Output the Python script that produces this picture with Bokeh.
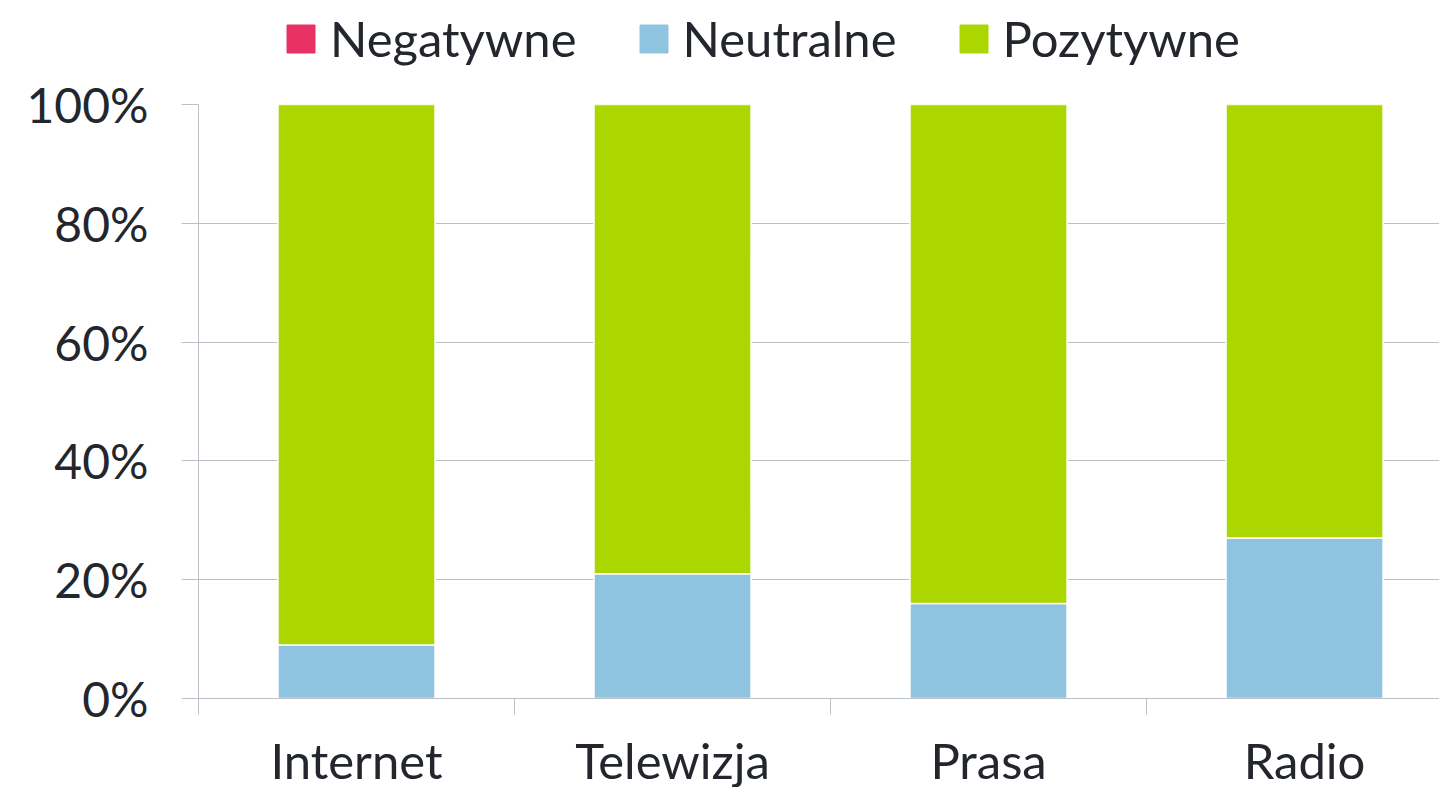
from bokeh.plotting import figure
from bokeh.layouts import column
from bokeh.models import (ColumnDataSource, Range1d, FixedTicker, NumeralTickFormatter,
                          Legend, LegendItem)
from bokeh.core.properties import value
from bokeh.embed import file_html
from bokeh.resources import INLINE

categories = ["Internet", "Telewizja", "Prasa", "Radio"]
negatywne = [0, 0, 0, 0]
neutralne = [9, 21, 16, 27]
pozytywne = [91, 79, 84, 73]
series = ["Negatywne", "Neutralne", "Pozytywne"]
colors = ["#E83263", "#8FC4E0", "#ABD600"]

FONT = "Lato"
TXT = "#23272d"
GRID = "#BCC1C8"
W = 1439

src = ColumnDataSource(dict(
    x=[i + 0.5 for i in range(len(categories))],
    cat=categories,
    Negatywne=[v / 100 for v in negatywne],
    Neutralne=[v / 100 for v in neutralne],
    Pozytywne=[v / 100 for v in pozytywne],
))

x_range = Range1d(0, 3.927)

# ---- legend strip -------------------------------------------------------
leg = figure(width=W, height=70, output_backend="svg", toolbar_location=None,
             x_range=Range1d(0, 1), y_range=Range1d(10, 11),
             x_axis_location=None, y_axis_location=None, min_border=0)
leg.outline_line_color = None
leg.grid.grid_line_color = None
leg_r = leg.vbar_stack(series, x="x", width=0.5, source=src, color=colors)
legend = Legend(items=[LegendItem(label=s, renderers=[r]) for s, r in zip(series, leg_r)],
                orientation="horizontal", location=(85, 3),
                label_text_font=FONT, label_text_font_size="49px", label_text_color=TXT,
                glyph_width=35, glyph_height=35, label_standoff=12, spacing=59,
                border_line_alpha=0, background_fill_alpha=0, padding=0, margin=0)
leg.add_layout(legend, "center")

# ---- main chart ---------------------------------------------------------
p = figure(width=W, height=658, output_backend="svg", toolbar_location=None,
           x_range=x_range, y_range=Range1d(0, 1),
           min_border_left=198, min_border_right=0, min_border_bottom=30, min_border_top=34)
p.outline_line_color = None

p.vbar_stack(series, x="x", width=0.497, source=src, color=colors,
             line_color="white", line_width=1.5)

p.yaxis.ticker = FixedTicker(ticks=[0, 0.2, 0.4, 0.6, 0.8, 1.0])
p.yaxis.formatter = NumeralTickFormatter(format="0%")
p.yaxis.axis_line_color = GRID
p.yaxis.major_tick_line_color = GRID
p.yaxis.major_tick_out = 17
p.yaxis.major_tick_in = 0
p.yaxis.minor_tick_line_color = None
p.yaxis.major_label_standoff = 33
p.yaxis.major_label_text_font = FONT
p.yaxis.major_label_text_font_size = "48px"
p.yaxis.major_label_text_color = TXT

p.xaxis.ticker = FixedTicker(ticks=[i + 0.5 for i in range(len(categories))],
                             minor_ticks=list(range(len(categories) + 1)))
p.xaxis.major_label_overrides = {i + 0.5: "" for i in range(len(categories))}
p.xaxis.major_label_text_font_size = "0px"
p.xaxis.major_label_standoff = 0
p.xaxis.axis_line_color = GRID
p.xaxis.major_tick_line_color = None
p.xaxis.major_tick_out = 0
p.xaxis.minor_tick_line_color = GRID
p.xaxis.minor_tick_out = 16
p.xaxis.minor_tick_in = 0

p.xgrid.grid_line_color = None
p.ygrid.grid_line_color = GRID
p.ygrid.ticker = FixedTicker(ticks=[0, 0.2, 0.4, 0.6, 0.8, 1.0])

# ---- category labels strip ----------------------------------------------
lab = figure(width=W, height=59, output_backend="svg", toolbar_location=None,
             x_range=x_range, y_range=Range1d(-28, 31),
             x_axis_location=None, y_axis_location=None,
             min_border_left=198, min_border_right=0, min_border_top=0, min_border_bottom=0)
lab.outline_line_color = None
lab.grid.grid_line_color = None
lab.text(x="x", y=0, text="cat", source=src, text_align="center", text_baseline="alphabetic",
         text_font=value(FONT), text_font_size="49px", text_color=TXT)

layout = column(leg, p, lab, spacing=0)
open("out.html", "w").write(file_html(layout, INLINE))
